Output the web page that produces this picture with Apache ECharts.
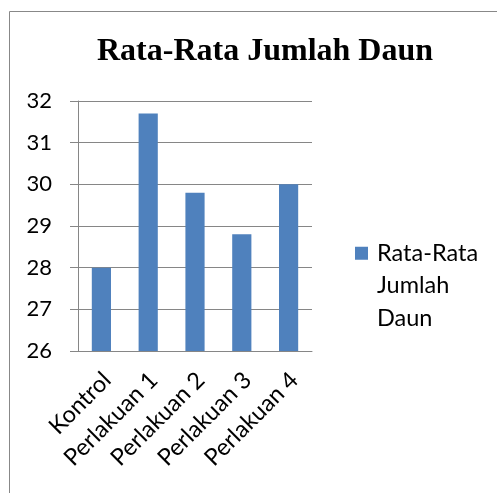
<!DOCTYPE html>
<html><head><meta charset="utf-8">
<script src="https://cdn.jsdelivr.net/npm/echarts@6/dist/echarts.min.js"></script>
<style>html,body{margin:0;padding:0;background:#fff}#c{width:497px;height:493px}</style>
</head><body><div id="c"></div>
<script>
const categories = ['Kontrol', 'Perlakuan 1', 'Perlakuan 2', 'Perlakuan 3', 'Perlakuan 4'];
const values = [28, 31.7, 29.8, 28.8, 30];
const seriesName = 'Rata-Rata Jumlah Daun';
const titleText = 'Rata-Rata Jumlah Daun';
const legendLines = ['Rata-Rata', 'Jumlah', 'Daun'];

const chart = echarts.init(document.getElementById('c'));
chart.setOption({
  animation: false,
  graphic: [{type: 'rect', shape: {x: 9.5, y: 11.5, width: 700, height: 700}, style: {fill: 'none', stroke: '#888', lineWidth: 1}}],
  title: {text: titleText, left: 260, textAlign: 'center', top: 31,
    textStyle: {fontFamily: 'Liberation Serif', fontWeight: 'bold', fontSize: 32, color: '#000'}},
  legend: {left: 355, top: 172, padding: 0, orient: 'vertical', icon: 'rect', itemWidth: 13, itemHeight: 13,
    formatter: () => '{s|\u00a0}\n{s|\u00a0}\n' + legendLines.map(l => '{t|' + l + '}').join('\n'),
    textStyle: {fontFamily: 'Lato', fontSize: 23, color: '#000', lineHeight: 32.5,
      rich: {s: {fontSize: 23, lineHeight: 32.5}, t: {fontFamily: 'Lato', fontSize: 23.5, color: '#000', lineHeight: 32.5, padding: [0, 0, 0, 4]}}}},
  grid: {left: 78, right: 185, top: 101, bottom: 142},
  xAxis: {type: 'category', data: categories,
    axisLine: {lineStyle: {color: '#868686'}},
    axisTick: {length: 5, lineStyle: {color: '#868686'}},
    axisLabel: {rotate: 45, fontFamily: 'Lato', fontSize: 23.5, color: '#000', margin: 31, padding: [0, -8, 0, 0]}},
  yAxis: {type: 'value', min: 26, max: 32, interval: 1,
    axisLine: {show: true, lineStyle: {color: '#868686'}},
    axisTick: {show: true, length: 8, lineStyle: {color: '#868686'}},
    splitLine: {lineStyle: {color: '#868686'}},
    axisLabel: {fontFamily: 'Lato', fontSize: 22, color: '#000', margin: 26}},
  series: [{name: seriesName, type: 'bar', data: values, barWidth: '41%', itemStyle: {color: '#4f81bd'}}]
});
</script></body></html>
